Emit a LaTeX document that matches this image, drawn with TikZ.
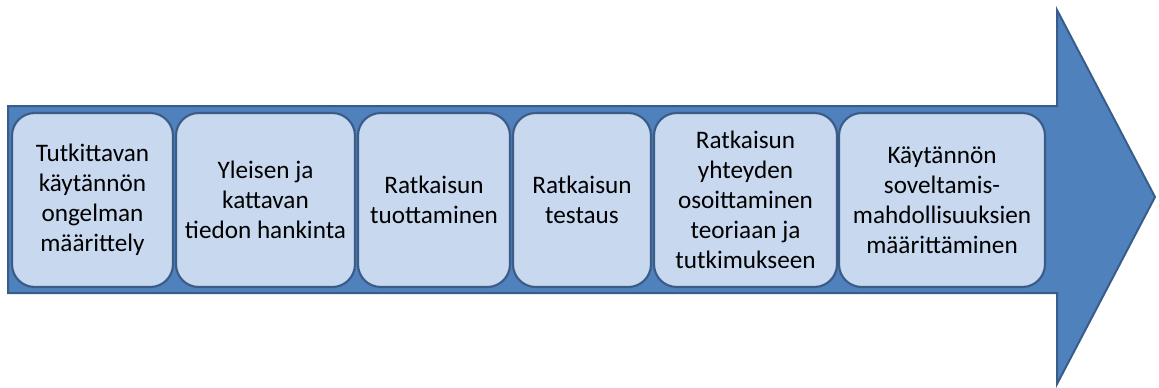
\documentclass[tikz,border=0pt]{standalone}
\usepackage{fontspec}
\setmainfont{Carlito}
\definecolor{arrowfill}{RGB}{79,129,189}
\definecolor{arrowline}{RGB}{56,93,138}
\definecolor{boxfill}{RGB}{199,216,239}
\definecolor{boxline}{RGB}{58,92,135}
\begin{document}
\begin{tikzpicture}[x=0.75pt,y=-0.75pt,
  stage/.style={draw=boxline,line width=1.6pt,fill=boxfill,rounded corners=17pt,
    minimum height=130.5pt,inner sep=0pt,align=center,
    font=\fontsize{18.9pt}{22.5pt}\selectfont}]
\useasboundingbox (0,0) rectangle (1159,387);
% big process arrow
\draw[fill=arrowfill,draw=arrowline,line width=1.5pt,line join=miter]
  (8,106) -- (1057,106) -- (1057,10) -- (1155,197) -- (1057,384) -- (1057,293) -- (8,293) -- cycle;
% stages
\node[stage,minimum width=120.75pt] (s1) at (92.5,200) {Tutkittavan\\käytännön\\ongelman\\määrittely};
\node[stage,minimum width=134.25pt] (s2) at (265.5,200) {Yleisen ja\\kattavan\\tiedon hankinta};
\node[stage,minimum width=114pt] (s3) at (434,200) {Ratkaisun\\tuottaminen};
\node[stage,minimum width=103.5pt] (s4) at (582,200) {Ratkaisun\\testaus};
\node[stage,minimum width=137.25pt] (s5) at (745.5,200) {Ratkaisun\\yhteyden\\osoittaminen\\teoriaan ja\\tutkimukseen};
\node[stage,minimum width=154.5pt] (s6) at (942,200) {Käytännön\\soveltamis-\\mahdollisuuksien\\määrittäminen};
\end{tikzpicture}
\end{document}
